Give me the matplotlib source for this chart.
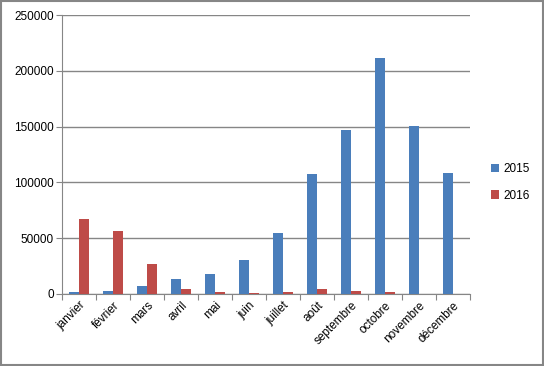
import matplotlib
matplotlib.use("Agg")
import matplotlib.pyplot as plt
import numpy as np

mois = ['janvier', 'février', 'mars', 'avril', 'mai', 'juin', 'juillet',
        'août', 'septembre', 'octobre', 'novembre', 'décembre']
v2015 = [2000, 3000, 7500, 13500, 18000, 30500, 54500,
         107500, 147000, 211500, 150500, 108500]
v2016 = [67500, 56500, 27000, 4000, 2000, 1000, 2000,
         4000, 3000, 2000, 0, 0]

plt.rcParams['font.family'] = ['Liberation Sans', 'DejaVu Sans']
grey = '#868686'

fig = plt.figure(figsize=(5.44, 3.66), dpi=100)
ax = fig.add_axes([0.114, 0.197, 0.75, 0.762])

x = np.arange(len(mois))
w = 0.29
ax.bar(x - w / 2, v2015, w, color='#4a7ebb', label='2015', zorder=3)
ax.bar(x + w / 2, v2016, w, color='#be4b48', label='2016', zorder=3)

ax.set_xlim(-0.5, len(mois) - 0.5)
ax.set_ylim(0, 250000)
ax.set_yticks(range(0, 250001, 50000))
ax.yaxis.grid(True, color=grey, linewidth=1, zorder=0)

# tick marks between categories, labels centered on the bars
ax.set_xticks(np.arange(-0.5, len(mois), 1))
ax.set_xticklabels([])
ax.set_xticks(x, minor=True)
ax.set_xticklabels(mois, minor=True, rotation=45, ha='right',
                   rotation_mode='anchor', fontsize=8.5)
ax.tick_params(axis='x', which='minor', length=0, pad=4)
ax.tick_params(axis='x', which='major', length=4, color=grey)
ax.tick_params(axis='y', length=4, color=grey, labelsize=8.5, pad=2)

for s in ['top', 'right']:
    ax.spines[s].set_visible(False)
ax.spines['left'].set_color(grey)
ax.spines['bottom'].set_color(grey)

ax.legend(loc='center left', bbox_to_anchor=(1.025, 0.40), frameon=False,
          fontsize=8.5, handlelength=0.7, handleheight=0.7,
          handletextpad=0.4, labelspacing=1.25)

fig.patches.append(plt.Rectangle((0.001, 0.002), 0.997, 0.995,
                                 transform=fig.transFigure, fill=False,
                                 edgecolor=grey, linewidth=1.5))

fig.savefig('out.png', dpi=100)
